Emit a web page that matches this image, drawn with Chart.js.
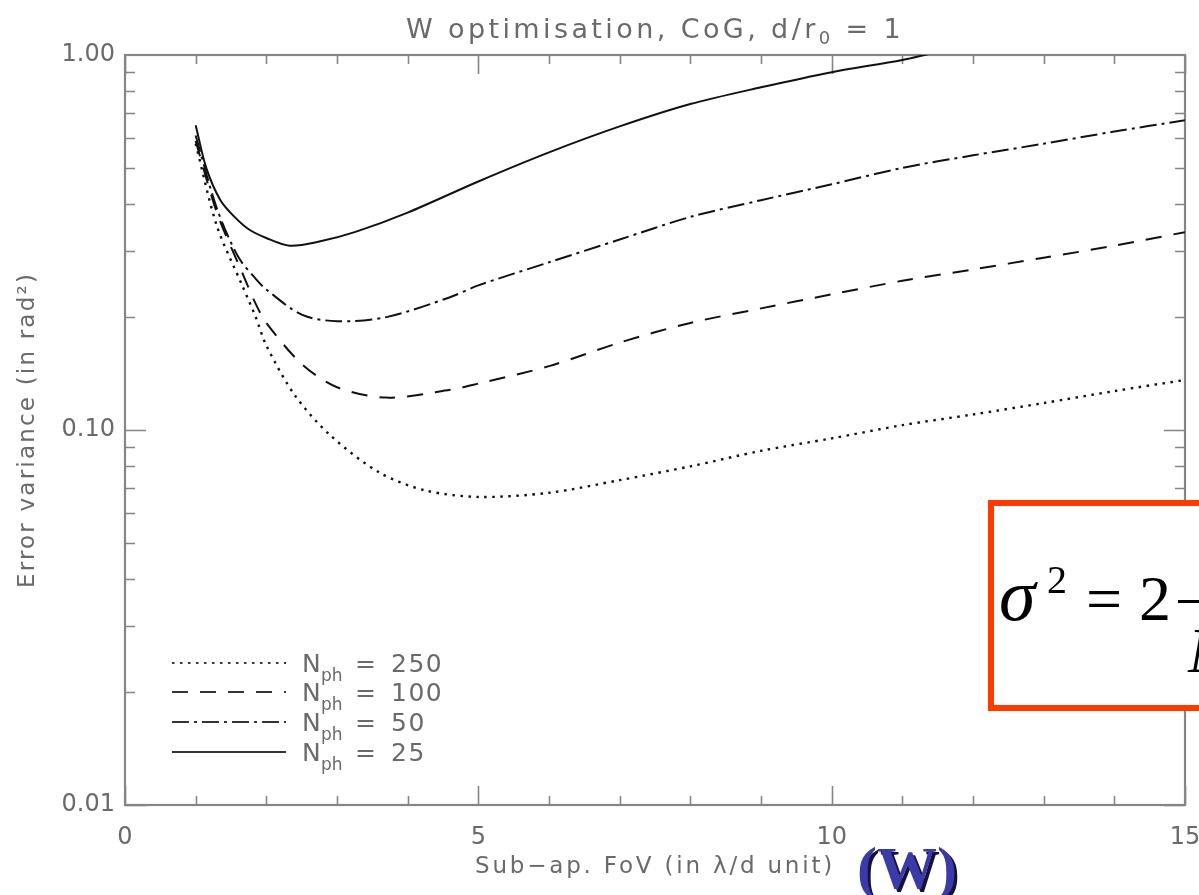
<!DOCTYPE html>
<html>
<head>
<meta charset="utf-8">
<script src="https://cdn.jsdelivr.net/npm/chart.js@4/dist/chart.umd.min.js"></script>
<style>
html,body{margin:0;padding:0;background:#fff;overflow:hidden}
#wrap{width:1199px;height:895px;position:relative}
</style>
</head>
<body>
<div id="wrap"><canvas id="c" width="1199" height="895"></canvas></div>
<script>
// ---- data ----
const seriesLabels = ['250', '100', '50', '25'];

const x250 = [1.0, 1.3, 1.65, 1.85, 2.0, 2.4, 2.9, 3.6, 4.25, 5.0, 6.0, 7.0, 8.0, 9.0, 10.0, 11.0, 12.0, 13.0, 14.0, 15.0];
const y250 = [0.58, 0.35, 0.245, 0.20, 0.168, 0.124, 0.097, 0.077, 0.069, 0.0663, 0.068, 0.0735, 0.080, 0.088, 0.095, 0.103, 0.110, 0.118, 0.127, 0.136];

const x100 = [1.0, 1.3, 1.65, 1.85, 2.0, 2.5, 3.0, 3.7, 4.6, 5.0, 6.0, 7.0, 8.0, 9.0, 10.0, 11.0, 12.0, 13.0, 14.0, 15.0];
const y100 = [0.59, 0.38, 0.265, 0.217, 0.193, 0.150, 0.130, 0.122, 0.128, 0.133, 0.148, 0.171, 0.193, 0.211, 0.230, 0.250, 0.268, 0.288, 0.310, 0.337];

const x50 = [1.0, 1.3, 1.6, 1.85, 2.0, 2.5, 3.0, 3.7, 4.6, 5.0, 6.0, 7.0, 8.0, 9.0, 10.0, 11.0, 12.0, 13.0, 14.0, 15.0];
const y50 = [0.61, 0.39, 0.29, 0.253, 0.237, 0.203, 0.195, 0.200, 0.226, 0.243, 0.280, 0.322, 0.370, 0.410, 0.452, 0.500, 0.540, 0.580, 0.625, 0.670];

const x25 = [1.0, 1.15, 1.35, 1.55, 1.75, 2.0, 2.33, 2.75, 3.25, 4.0, 5.0, 6.0, 7.0, 8.0, 9.0, 10.0, 11.0, 11.6];
const y25 = [0.65, 0.50, 0.41, 0.37, 0.343, 0.325, 0.31, 0.318, 0.337, 0.38, 0.46, 0.55, 0.645, 0.74, 0.82, 0.90, 0.97, 1.03];

const xTickLabels = [0, 5, 10, 15];
const yTickLabels = [0.01, 0.10, 1.00];

const titleText = ['W optimisation, CoG, d/r', '0', ' = 1'];
const xTitle = 'Sub\u2212ap. FoV (in \u03bb/d unit)';
const yTitle = 'Error variance (in rad\u00b2)';

// ---- build ----
const pts = (xs, ys) => xs.map((x, i) => ({x: x, y: ys[i]}));
const dashes = [[2.5, 5.5], [16, 12], [17, 5, 3, 5], []];
const seriesData = [pts(x250, y250), pts(x100, y100), pts(x50, y50), pts(x25, y25)];

const GREY = '#6a6a6a';
const FRAME = '#858585';

const decor = {
  id: 'decor',
  beforeDatasetsDraw(chart) {
    const ctx = chart.ctx;
    const {left, right, top, bottom} = chart.chartArea;
    const xs = chart.scales.x, ys = chart.scales.y;
    ctx.save();
    ctx.strokeStyle = FRAME;
    ctx.lineWidth = 1.6;
    ctx.beginPath();
    for (let v = 0; v <= 15; v++) {
      const px = Math.round(xs.getPixelForValue(v)) + 0.5;
      const L = (v % 5 === 0) ? 19 : 9;
      ctx.moveTo(px, bottom); ctx.lineTo(px, bottom - L);
      ctx.moveTo(px, top); ctx.lineTo(px, top + L);
    }
    for (let e = -2; e <= -1; e++) {
      for (let m = 1; m <= 9; m++) {
        const v = m * Math.pow(10, e);
        const py = Math.round(ys.getPixelForValue(v)) + 0.5;
        const L = (m === 1) ? 21 : 10;
        ctx.moveTo(left, py); ctx.lineTo(left + L, py);
        ctx.moveTo(right, py); ctx.lineTo(right - L, py);
      }
    }
    ctx.stroke();
    ctx.lineWidth = 2.2;
    ctx.strokeRect(left, top, right - left, bottom - top);
    ctx.restore();
  },
  afterDraw(chart) {
    const ctx = chart.ctx;
    const {left, right, top, bottom} = chart.chartArea;
    ctx.save();
    ctx.fillStyle = GREY;
    // title
    ctx.font = '27px "DejaVu Sans"';
    ctx.textBaseline = 'alphabetic';
    ctx.textAlign = 'left';
    ctx.letterSpacing = '3.4px';
    const w1 = ctx.measureText(titleText[0]).width;
    const w3 = ctx.measureText(titleText[2]).width;
    ctx.font = '18px "DejaVu Sans"';
    const w2 = ctx.measureText(titleText[1]).width;
    const total = w1 + w2 + w3;
    let tx = (left + right) / 2 - total / 2;
    ctx.font = '27px "DejaVu Sans"';
    ctx.fillText(titleText[0], tx, 38);
    ctx.font = '18px "DejaVu Sans"';
    ctx.fillText(titleText[1], tx + w1, 44);
    ctx.font = '27px "DejaVu Sans"';
    ctx.fillText(titleText[2], tx + w1 + w2, 38);
    ctx.letterSpacing = '0px';

    // x axis title
    ctx.font = '23px "DejaVu Sans"';
    ctx.textAlign = 'center';
    ctx.textBaseline = 'middle';
    ctx.letterSpacing = '2.8px';
    ctx.fillText(xTitle, (left + right) / 2, 867);
    // y axis title
    ctx.save();
    ctx.translate(28, (top + bottom) / 2);
    ctx.rotate(-Math.PI / 2);
    ctx.letterSpacing = '2.2px';
    ctx.fillText(yTitle, 0, 0);
    ctx.restore();
    ctx.letterSpacing = '0px';

    // legend
    const rowsY = [663, 692, 722, 752];
    chart.data.datasets.forEach((ds, i) => {
      const y = rowsY[i];
      ctx.save();
      ctx.strokeStyle = '#333';
      ctx.lineWidth = 1.8;
      ctx.setLineDash(ds.borderDash);
      ctx.beginPath();
      ctx.moveTo(172, y); ctx.lineTo(286, y);
      ctx.stroke();
      ctx.restore();
      ctx.fillStyle = GREY;
      ctx.textAlign = 'left';
      ctx.textBaseline = 'alphabetic';
      ctx.font = '25px "DejaVu Sans"';
      ctx.fillText('N', 302, y + 9);
      ctx.font = '17px "DejaVu Sans"';
      ctx.fillText('ph', 321, y + 18);
      ctx.font = '25px "DejaVu Sans"';
      ctx.fillText('=', 355, y + 9);
      ctx.letterSpacing = '1.5px';
      ctx.fillText(seriesLabels[i], 391, y + 9);
      ctx.letterSpacing = '0px';
    });

    // formula box
    ctx.fillStyle = '#ffffff';
    ctx.fillRect(988, 500, 230, 211);
    ctx.strokeStyle = '#ff3a00';
    ctx.lineWidth = 6;
    ctx.strokeRect(991, 503, 260, 205);
    ctx.fillStyle = '#000';
    ctx.textAlign = 'left';
    ctx.textBaseline = 'alphabetic';
    ctx.font = 'italic 74px "Liberation Serif"';
    ctx.fillText('\u03c3', 999, 620);
    ctx.font = '40px "Liberation Serif"';
    ctx.fillText('2', 1047, 593);
    ctx.font = '64px "Liberation Serif"';
    ctx.fillText('=', 1086, 620);
    ctx.fillText('2', 1139, 620);
    ctx.fillRect(1178, 600, 30, 3);
    ctx.font = 'italic 64px "Liberation Serif"';
    ctx.fillText('N', 1188, 672);

    // (W)
    ctx.font = 'bold 60px "Liberation Serif"';
    ctx.textAlign = 'left';
    ctx.fillStyle = '#14143a';
    ctx.fillText('(W)', 860, 891);
    ctx.fillStyle = '#3a3aa8';
    ctx.fillText('(W)', 857, 888);
    ctx.restore();
  }
};

const chart = new Chart(document.getElementById('c'), {
  type: 'line',
  data: {
    datasets: seriesData.map((d, i) => ({
      label: 'N_ph = ' + seriesLabels[i],
      data: d,
      borderColor: '#111',
      borderWidth: i === 0 ? 2.4 : 2,
      borderDash: dashes[i],
      pointRadius: 0,
      fill: false,
      tension: 0.3
    }))
  },
  options: {
    responsive: false,
    animation: false,
    devicePixelRatio: 1,
    layout: {padding: {top: 55, right: 14, left: 0, bottom: 0}},
    plugins: {legend: {display: false}, title: {display: false}, tooltip: {enabled: false}},
    scales: {
      x: {
        type: 'linear',
        min: 0, max: 15,
        grid: {display: false, drawTicks: false},
        border: {display: false},
        afterBuildTicks: s => { s.ticks = xTickLabels.map(v => ({value: v})); },
        afterFit: s => { s.height = 90; s.paddingRight = 0; s.paddingLeft = 0; },
        ticks: {
          color: GREY,
          font: {family: 'DejaVu Sans', size: 24},
          padding: 18,
          maxRotation: 0,
          autoSkip: false,
          callback: v => String(v)
        }
      },
      y: {
        type: 'logarithmic',
        min: 0.01, max: 1,
        grid: {display: false, drawTicks: false},
        border: {display: false},
        afterBuildTicks: s => { s.ticks = yTickLabels.map(v => ({value: v})); },
        afterFit: s => { s.width = 125; s.paddingTop = 0; s.paddingBottom = 0; },
        ticks: {
          color: GREY,
          font: {family: 'DejaVu Sans', size: 24},
          padding: 10,
          autoSkip: false,
          callback: v => Number(v).toFixed(2)
        }
      }
    }
  },
  plugins: [decor]
});
</script>
</body>
</html>
